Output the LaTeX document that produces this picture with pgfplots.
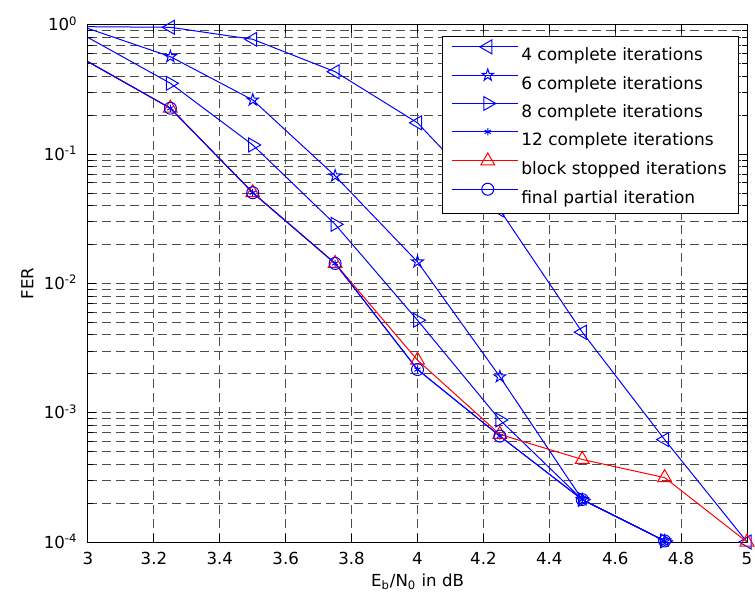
\documentclass[border=0pt]{standalone}
\usepackage{fontspec}
\setmainfont{DejaVu Sans}
\usepackage{pgfplots}
\pgfplotsset{compat=1.18}
\usetikzlibrary{plotmarks}

\pgfdeclareplotmark{pentagram}{%
  \pgfpathmoveto{\pgfpointpolar{90}{\pgfplotmarksize}}%
  \pgfpathlineto{\pgfpointpolar{126}{0.382\pgfplotmarksize}}%
  \pgfpathlineto{\pgfpointpolar{162}{\pgfplotmarksize}}%
  \pgfpathlineto{\pgfpointpolar{198}{0.382\pgfplotmarksize}}%
  \pgfpathlineto{\pgfpointpolar{234}{\pgfplotmarksize}}%
  \pgfpathlineto{\pgfpointpolar{270}{0.382\pgfplotmarksize}}%
  \pgfpathlineto{\pgfpointpolar{306}{\pgfplotmarksize}}%
  \pgfpathlineto{\pgfpointpolar{342}{0.382\pgfplotmarksize}}%
  \pgfpathlineto{\pgfpointpolar{18}{\pgfplotmarksize}}%
  \pgfpathlineto{\pgfpointpolar{54}{0.382\pgfplotmarksize}}%
  \pgfpathclose
  \pgfusepathqstroke
}

\begin{document}
\begin{tikzpicture}
\path[use as bounding box] (-44pt,-29.15pt) rectangle (333.5pt,271pt);
\begin{axis}[
  at={(0,0)}, anchor=south west,
  scale only axis, width=329.5pt, height=258.5pt,
  xmin=3, xmax=5, ymode=log, ymin=1e-4, ymax=1,
  xtick={3,3.2,3.4,3.6,3.8,4,4.2,4.4,4.6,4.8,5},
  xticklabels={3,3.2,3.4,3.6,3.8,4,4.2,4.4,4.6,4.8,5},
  ytick={1e-4,1e-3,1e-2,1e-1,1},
  yticklabels={10\textsuperscript{-4},10\textsuperscript{-3},10\textsuperscript{-2},10\textsuperscript{-1},10\textsuperscript{0}},
  minor ytick={2e-4,3e-4,4e-4,5e-4,6e-4,7e-4,8e-4,9e-4,
               2e-3,3e-3,4e-3,5e-3,6e-3,7e-3,8e-3,9e-3,
               2e-2,3e-2,4e-2,5e-2,6e-2,7e-2,8e-2,9e-2,
               2e-1,3e-1,4e-1,5e-1,6e-1,7e-1,8e-1,9e-1},
  grid=both,
  major grid style={black!70, dash pattern=on 4.5pt off 2.5pt, line width=0.5pt},
  minor grid style={black!70, dash pattern=on 4.5pt off 2.5pt, line width=0.5pt},
  tick align=inside,
  major tick length=4pt, minor tick length=2.5pt,
  tick style={black, line width=0.5pt},
  axis line style={black, line width=0.5pt},
  tick label style={font=\fontsize{8.3}{10}\selectfont},
  xticklabel style={anchor=base, yshift=-11.25pt},
  yticklabel style={anchor=base east, xshift=-1.7pt, yshift=-3pt},
  xlabel={E\textsubscript{b}/N\textsubscript{0} in dB},
  ylabel={FER},
  label style={font=\fontsize{8.3}{10}\selectfont},
  xlabel style={at={(axis description cs:0.5,0)}, anchor=base, yshift=-22pt},
  ylabel style={at={([xshift=-27.35pt]axis description cs:0,0.5)}, anchor=base},
  legend style={at={(0.988,0.979)}, anchor=north east, draw=black, line width=0.5pt,
    fill=white, inner xsep=4.5pt, inner ysep=1.7pt,
    font=\fontsize{8.5}{10}\selectfont, row sep=0pt,
    nodes={inner xsep=1.5pt, inner ysep=0pt, text height=10.575pt, text depth=3.575pt, anchor=west}},
  legend cell align=left,
  legend image code/.code={%
    \path (-3pt,3.5pt) -- (30pt,3.5pt);
    \draw[mark=none] (0pt,3.5pt) -- (30pt,3.5pt);
    \draw[only marks, mark indices={1}] plot coordinates {(15pt,3.5pt)};},
]
% 4 complete iterations
\addplot[blue, line width=0.5pt, mark=triangle, mark size=4pt, mark options={solid, rotate=90}, mark indices={2,3,4,5,6,7,8,9}]
  coordinates {(3,0.97) (3.25,0.96) (3.5,0.775) (3.75,0.435) (4,0.175) (4.25,0.037) (4.5,4.2e-3) (4.75,6.2e-4) (5,1.0e-4)};
\addlegendentry{4 complete iterations}
% 6 complete iterations
\addplot[blue, line width=0.5pt, mark=pentagram, mark size=3.1pt, mark options={solid}, mark indices={2,3,4,5,6,7,8}]
  coordinates {(3,0.94) (3.25,0.569) (3.5,0.263) (3.75,0.068) (4,0.0147) (4.25,1.9e-3) (4.5,2.13e-4) (4.75,1.02e-4)};
\addlegendentry{6 complete iterations}
% 8 complete iterations
\addplot[blue, line width=0.5pt, mark=triangle, mark size=4pt, mark options={solid, rotate=-90}, mark indices={2,3,4,5,6,7,8}]
  coordinates {(3,0.80) (3.25,0.354) (3.5,0.118) (3.75,0.0287) (4,5.2e-3) (4.25,8.8e-4) (4.5,2.13e-4) (4.75,1.02e-4)};
\addlegendentry{8 complete iterations}
% 12 complete iterations
\addplot[blue, line width=0.5pt, mark=asterisk, mark size=1.8pt, mark options={solid}, mark indices={2,3,4,5,6,7,8}]
  coordinates {(3,0.52) (3.25,0.227) (3.5,0.0504) (3.75,0.0143) (4,2.16e-3) (4.25,6.6e-4) (4.5,2.13e-4) (4.75,1.02e-4)};
\addlegendentry{12 complete iterations}
% block stopped iterations
\addplot[red, line width=0.5pt, mark=triangle, mark size=4pt, mark options={solid}, mark indices={2,3,4,5,6,7,8,9}]
  coordinates {(3,0.52) (3.25,0.227) (3.5,0.0504) (3.75,0.0143) (4,2.55e-3) (4.25,6.8e-4) (4.5,4.35e-4) (4.75,3.15e-4) (5,1.0e-4)};
\addlegendentry{block stopped iterations}
% final partial iteration
\addplot[blue, line width=0.5pt, mark=o, mark size=3pt, mark options={solid}, mark indices={2,3,4,5,6,7,8}]
  coordinates {(3,0.52) (3.25,0.227) (3.5,0.0504) (3.75,0.0143) (4,2.16e-3) (4.25,6.6e-4) (4.5,2.13e-4) (4.75,1.02e-4)};
\addlegendentry{final partial iteration}
\end{axis}
\end{tikzpicture}
\end{document}
